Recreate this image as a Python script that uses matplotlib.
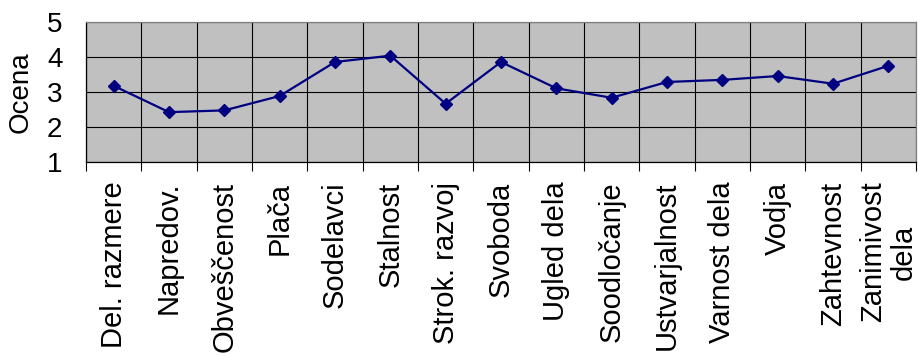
import matplotlib
matplotlib.use("Agg")
import matplotlib.pyplot as plt
from matplotlib.ticker import FixedLocator
import numpy as np

plt.rcParams['font.family'] = ['Liberation Sans', 'DejaVu Sans']

categories = ["Del. razmere", "Napredov.", "Obveščenost", "Plača", "Sodelavci",
              "Stalnost", "Strok. razvoj", "Svoboda", "Ugled dela", "Soodločanje",
              "Ustvarjalnost", "Varnost dela", "Vodja", "Zahtevnost", "Zanimivost\ndela"]
ratings = [3.18, 2.43, 2.48, 2.89, 3.86, 4.04, 2.67, 3.86, 3.11, 2.84,
           3.29, 3.35, 3.46, 3.24, 3.75]
y_ticks = [1, 2, 3, 4, 5]

fig = plt.figure(figsize=(9.18, 3.56), dpi=100)
ax = fig.add_axes([86/918, 1 - 162.3/356, 830/918, 140.3/356])
ax.set_facecolor('#C0C0C0')

x = np.arange(1, len(categories) + 1)
ax.plot(x, ratings, color='#000080', lw=1.6, marker='D', ms=6.6,
        mfc='#000080', mec='#000080', zorder=3)

ax.set_xlim(0.5, len(categories) + 0.5)
ax.set_ylim(1, 5)

# category separators and horizontal gridlines
bounds = np.arange(0.5, len(categories) + 1, 1.0)
ax.xaxis.set_minor_locator(FixedLocator(bounds))
ax.set_xticks(x)
ax.set_xticklabels(categories, rotation=90, fontsize=21, va='top', ha='center',
                   multialignment='center', linespacing=1.1)
ax.tick_params(axis='x', which='major', length=0, pad=14)
ax.tick_params(axis='x', which='minor', length=6.5, width=0.8, color='black', direction='out')
ax.grid(True, axis='x', which='minor', color='black', lw=0.8)
ax.set_yticks(y_ticks)
ax.set_yticklabels([str(v) for v in y_ticks], fontsize=20)
ax.tick_params(axis='y', length=0, pad=17)
ax.grid(True, axis='y', which='major', color='black', lw=0.8)
ax.set_axisbelow(True)

for side in ['left', 'bottom']:
    ax.spines[side].set_color('black')
    ax.spines[side].set_linewidth(0.9)
for side in ['top', 'right']:
    ax.spines[side].set_color('#808080')
    ax.spines[side].set_linewidth(0.9)

ax.set_ylabel("Ocena", fontsize=20)
ax.yaxis.set_label_coords(-52/830, 0.5)

fig.savefig("out.png", dpi=100)
